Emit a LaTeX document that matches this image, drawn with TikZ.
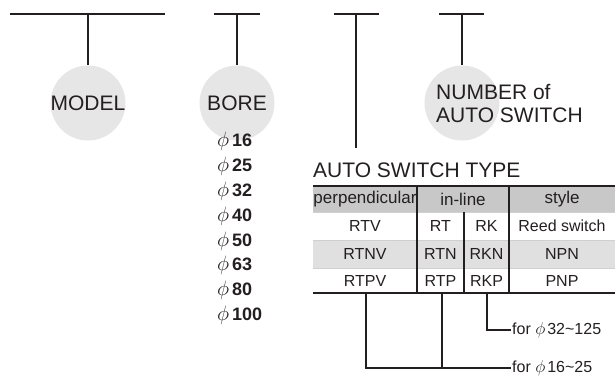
\documentclass[tikz,border=0pt]{standalone}
\usepackage{fontspec}
\setmainfont{Liberation Sans}
\definecolor{ink}{HTML}{231F20}
\definecolor{bubble}{HTML}{E6E6E6}
\definecolor{headfill}{HTML}{C8C8C8}
\definecolor{rowfill}{HTML}{E0E0E0}
\definecolor{thinline}{HTML}{D0D0D0}
\newcommand{\phisym}[1]{{\fontsize{#1}{#1}\selectfont$\phi$}}
\begin{document}
\begin{tikzpicture}[x=1pt,y=-1pt,
  ln/.style={line width=1.2pt, draw=ink},
  thin/.style={line width=0.8pt, draw=thinline},
  bubblenode/.style={circle, fill=bubble, minimum size=75pt, inner sep=0pt},
  big/.style={font=\fontsize{21}{23}\selectfont, text=ink},
  hdr/.style={font=\fontsize{17}{19}\selectfont, text=ink},
  cell/.style={font=\fontsize{16}{18}\selectfont, text=ink},
  borestyle/.style={anchor=west, font=\fontsize{18}{20}\selectfont, text=ink, inner sep=0pt},
  note/.style={anchor=west, font=\fontsize{16}{18}\selectfont, text=ink, inner sep=1pt}
]
\useasboundingbox (0,0) rectangle (616,376);

% bubbles
\node[bubblenode] (model) at (88,103) {};
\node[bubblenode] (bore) at (237,103) {};
\node[bubblenode] (num) at (462,103) {};
\node[big] (modelt) at (88,103) {MODEL};
\node[big] (boret) at (237,103) {BORE};
\node[big, anchor=west, align=left, inner sep=0pt] (numt) at (436,103.5) {NUMBER of\\AUTO SWITCH};

% top bars
\coordinate (b1l) at (10,14); \coordinate (b1r) at (165,14); \coordinate (b1) at (88,14);
\coordinate (b2l) at (214,14); \coordinate (b2r) at (260,14); \coordinate (b2) at (237,14);
\coordinate (b3l) at (334,14); \coordinate (b3r) at (379,14); \coordinate (b3) at (356,14);
\coordinate (b4l) at (439,14); \coordinate (b4r) at (484,14); \coordinate (b4) at (462,14);
\coordinate (b3e) at (356,148);
\draw[ln] (b1l) -- (b1r); \draw[ln] (b1) -- (model.north);
\draw[ln] (b2l) -- (b2r); \draw[ln] (b2) -- (bore.north);
\draw[ln] (b3l) -- (b3r); \draw[ln] (b3) -- (b3e);
\draw[ln] (b4l) -- (b4r); \draw[ln] (b4) -- (num.north);

% bore list
\foreach \v/\y [count=\i] in {16/141,25/166,32/191,40/216,50/241,63/265,80/290,100/315}
  \node[borestyle] (bore\i) at (217,\y) {\phisym{21}\hspace{3pt}\textbf{\v}};

% table title
\node[big, anchor=west, inner sep=0pt] (ttitle) at (313,170) {AUTO SWITCH TYPE};

% table fills
\fill[headfill] (313,186) rectangle (615,212);
\fill[rowfill] (313,240) rectangle (615,268);
\draw[thin] (313,212) -- (615,212);
\draw[thin] (313,240) -- (615,240);
\draw[thin] (313,268) -- (615,268);
\draw[ln] (313,186) -- (615,186);
\draw[ln] (313,293) -- (615,293);
\draw[ln] (417,186) -- (417,293);
\draw[ln] (509,186) -- (509,293);
\draw[ln] (464,212) -- (464,293);

% table texts
\node[hdr] (h1) at (365,199.5) {perpendicular};
\node[hdr] (h2) at (463,199.5) {in-line};
\node[hdr] (h3) at (562,199.5) {style};
\node[cell] (r1a) at (365,226) {RTV};
\node[cell] (r1b) at (440.5,226) {RT};
\node[cell] (r1c) at (486.5,226) {RK};
\node[cell] (r1d) at (562,226) {Reed switch};
\node[cell] (r2a) at (365,254) {RTNV};
\node[cell] (r2b) at (440.5,254) {RTN};
\node[cell] (r2c) at (486.5,254) {RKN};
\node[cell] (r2d) at (562,254) {NPN};
\node[cell] (r3a) at (365,280.5) {RTPV};
\node[cell] (r3b) at (440.5,280.5) {RTP};
\node[cell] (r3c) at (486.5,280.5) {RKP};
\node[cell] (r3d) at (562,280.5) {PNP};

% bottom notes
\node[note] (n1) at (511,330) {for \phisym{18}\hspace{2pt}32\textasciitilde 125};
\node[note] (n2) at (511,368) {for \phisym{18}\hspace{2pt}16\textasciitilde 25};
\coordinate (t1) at (366,293);
\coordinate (t2) at (442,293);
\coordinate (t3) at (487,293);
\draw[ln] (t3) |- (n1.west);
\draw[ln] (t1) |- (n2.west);
\draw[ln] (t2) -- (t2 |- n2.west);
\end{tikzpicture}
\end{document}
